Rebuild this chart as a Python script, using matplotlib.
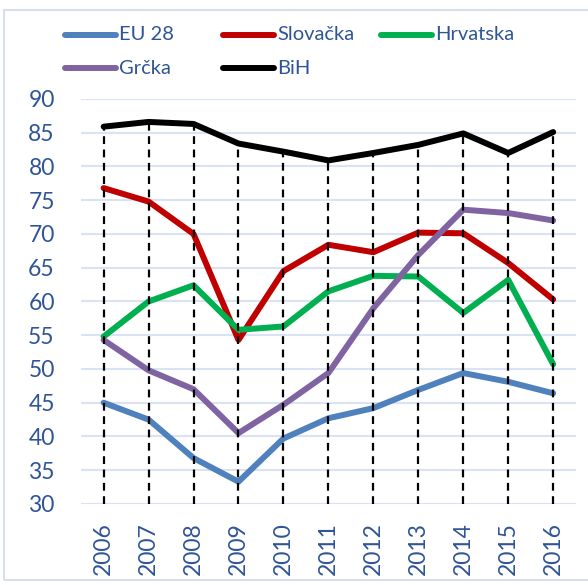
import matplotlib
matplotlib.use('Agg')
import matplotlib.pyplot as plt
from matplotlib.lines import Line2D
from matplotlib.patches import Rectangle

plt.rcParams['font.family'] = ['Lato', 'DejaVu Sans']

# data
years = ['2006', '2007', '2008', '2009', '2010', '2011', '2012', '2013', '2014', '2015', '2016']
eu28 = [45.0, 42.5, 36.8, 33.3, 39.7, 42.7, 44.2, 46.9, 49.4, 48.1, 46.4]
slovacka = [76.8, 74.8, 70.0, 54.3, 64.5, 68.4, 67.3, 70.2, 70.1, 65.7, 60.3]
hrvatska = [54.8, 60.0, 62.4, 55.8, 56.3, 61.5, 63.8, 63.7, 58.3, 63.2, 50.7]
grcka = [54.3, 49.8, 47.0, 40.5, 44.7, 49.4, 59.0, 66.9, 73.6, 73.1, 72.0]
bih = [85.9, 86.6, 86.3, 83.4, 82.2, 80.9, 82.0, 83.2, 84.9, 82.0, 85.1]

series = [
    ('EU 28', eu28, '#4f81bd'),
    ('Slovačka', slovacka, '#c00000'),
    ('Hrvatska', hrvatska, '#00b050'),
    ('Grčka', grcka, '#8064a2'),
    ('BiH', bih, '#000000'),
]
txt_color = '#2f5597'

fig = plt.figure(figsize=(5.88, 5.85), dpi=100)
ax = fig.add_axes([0.138, 0.1385, 0.841, 0.6923])

x = list(range(len(years)))
for name, vals, col in series:
    ax.plot(x, vals, color=col, lw=4.3, solid_capstyle='round',
            solid_joinstyle='round', zorder=3)

# drop lines from the top series down to the axis floor
ax.vlines(x, 30, bih, colors='black', linestyles=(0, (3.5, 2.5)), lw=1.6, zorder=4)

ax.set_ylim(30, 90)
ax.set_xlim(-0.5, len(years) - 0.5)
ax.set_yticks(range(30, 91, 5))
ax.set_xticks(x)
ax.set_xticklabels(years, rotation=90)
ax.grid(axis='y', color='#d9e3f3', lw=1.5, zorder=0)
ax.set_axisbelow(True)
for s in ax.spines.values():
    s.set_visible(False)
ax.tick_params(length=0, labelsize=16.5, labelcolor=txt_color)
ax.tick_params(axis='y', pad=19)
ax.tick_params(axis='x', pad=13)

# legend, Excel-style grid of entries
W, H = 588.0, 585.0
slots = [(65, 35), (223, 35), (381, 35), (65, 68), (223, 68)]
for (name, vals, col), (px, py) in zip(series, slots):
    fig.add_artist(Line2D([px / W, (px + 51) / W], [1 - py / H, 1 - py / H],
                          color=col, lw=4.3, solid_capstyle='round'))
    fig.text((px + 54) / W, 1 - py / H, name, color=txt_color, fontsize=14.5,
             va='center', ha='left')

# chart border
fig.add_artist(Rectangle((4 / W, 1 - 580 / H), 600 / W, 570 / H, fill=False,
                         edgecolor='#d6dfec', lw=1.5))

fig.savefig('out.png', dpi=100)
